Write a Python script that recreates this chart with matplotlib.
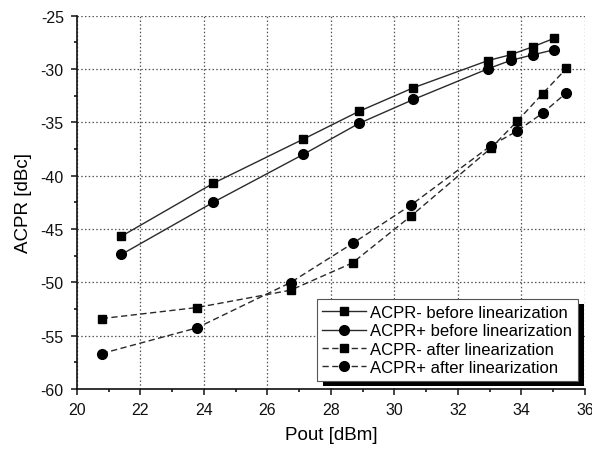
import matplotlib
matplotlib.use("Agg")
import matplotlib.pyplot as plt
from matplotlib.patches import Rectangle
from matplotlib.transforms import IdentityTransform

plt.rcParams['font.family'] = ['Liberation Sans', 'DejaVu Sans']
plt.rcParams['axes.unicode_minus'] = False

x_before = [21.4, 24.3, 27.13, 28.88, 30.6, 32.95, 33.66, 34.37, 35.03]
acpr_minus_before = [-45.67, -40.7, -36.57, -33.97, -31.75, -29.2, -28.66, -27.9, -27.12]
acpr_plus_before = [-47.38, -42.48, -38.0, -35.1, -32.85, -29.97, -29.19, -28.66, -28.19]

x_after = [20.78, 23.77, 26.73, 28.68, 30.53, 33.03, 33.87, 34.67, 35.42]
acpr_minus_after = [-53.39, -52.36, -50.73, -48.17, -43.76, -37.44, -34.88, -32.3, -29.94]
acpr_plus_after = [-56.67, -54.27, -50.01, -46.35, -42.73, -37.2, -35.8, -34.13, -32.22]

labels = ["ACPR- before linearization", "ACPR+ before linearization",
          "ACPR- after linearization", "ACPR+ after linearization"]

fig = plt.figure(figsize=(5.92, 4.52), dpi=100)
ax = fig.add_axes([0.130, 0.137, 0.858, 0.826])

lc = '#2a2a2a'
dash = (0, (4.5, 2.5))
ax.plot(x_before, acpr_minus_before, '-', color=lc, lw=1.0, marker='s', ms=6, mfc='black', mec='black', label=labels[0])
ax.plot(x_before, acpr_plus_before, '-', color=lc, lw=1.0, marker='o', ms=7, mfc='black', mec='black', label=labels[1])
ax.plot(x_after, acpr_minus_after, linestyle=dash, color=lc, lw=1.0, marker='s', ms=6, mfc='black', mec='black', label=labels[2])
ax.plot(x_after, acpr_plus_after, linestyle=dash, color=lc, lw=1.0, marker='o', ms=7, mfc='black', mec='black', label=labels[3])

ax.set_xlim(20, 36)
ax.set_ylim(-60, -25)
ax.set_xticks(range(20, 37, 2))
ax.set_yticks(range(-60, -24, 5))
ax.set_xticks(range(21, 36, 2), minor=True)
ax.set_yticks([-57.5 + 5 * i for i in range(7)], minor=True)
ax.tick_params(which='major', direction='out', length=4.5, width=1.1, labelsize=11.5,
               colors='#111111', pad=5)
ax.tick_params(which='minor', direction='out', length=2.5, width=1.1)
ax.grid(True, which='major', linestyle=(0, (1.2, 1.8)), color='#555555', lw=0.9)
for s in ['top', 'right']:
    ax.spines[s].set_visible(False)
for s in ['left', 'bottom']:
    ax.spines[s].set_linewidth(1.2)
    ax.spines[s].set_color('#111111')

ax.set_xlabel('Pout [dBm]', fontsize=13.5, labelpad=6)
ax.set_ylabel('ACPR [dBc]', fontsize=13.5, labelpad=6)

leg = ax.legend(loc='lower right', bbox_to_anchor=(0.986, 0.022), borderaxespad=0,
                fontsize=12, handlelength=2.6, handletextpad=0.25, labelspacing=0.2,
                fancybox=False, edgecolor='#555555', framealpha=1, borderpad=0.35)
leg.get_frame().set_linewidth(0.8)
leg.set_zorder(10)

fig.canvas.draw()
bb = leg.get_window_extent()
shadow = Rectangle((bb.x0 + 6, bb.y0 - 5), bb.width, bb.height, transform=IdentityTransform(),
                   facecolor='black', edgecolor='none', zorder=9, clip_on=False)
ax.add_artist(shadow)

fig.savefig('out.png', dpi=100)
